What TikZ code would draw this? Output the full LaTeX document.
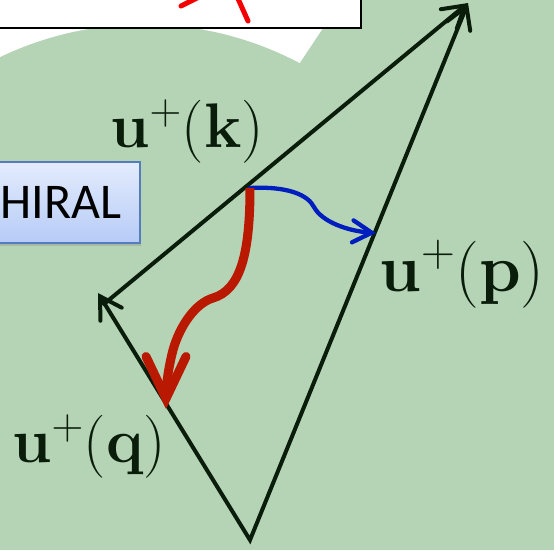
\RequirePackage{fix-cm}
\documentclass[tikz,border=0pt]{standalone}
\usepackage[no-math]{fontspec}
\newfontfamily\calib{Carlito}
\usetikzlibrary{arrows.meta,shadows}
\definecolor{bgG}{RGB}{181,212,182}
\definecolor{lineK}{RGB}{10,28,10}
\definecolor{redA}{RGB}{185,25,0}
\definecolor{blueA}{RGB}{0,30,190}
\definecolor{boxTop}{RGB}{228,236,253}
\definecolor{boxBot}{RGB}{182,203,246}
\definecolor{boxEdge}{RGB}{85,125,190}
\definecolor{redT}{RGB}{245,0,0}
\begin{document}
\begin{tikzpicture}[x=1pt,y=-1pt,
  barbK/.tip={Straight Barb[length=21pt,width=25pt,line cap=round]},
  vec/.style={line width=4pt, draw=lineK, line cap=round, line join=miter},
  bluearr/.style={line width=4.3pt, draw=blueA, line cap=round,
    -{Straight Barb[length=19pt,width=22pt,line cap=round]}},
  redarr/.style={line width=9pt, draw=redA, line cap=butt,
    -{Straight Barb[length=42pt,width=40pt,line cap=round]}},
  lab/.style={inner sep=0pt, text=lineK, font=\fontsize{63}{66}\selectfont},
  hbox/.style={draw=boxEdge, line width=2pt, top color=boxTop, bottom color=boxBot,
    drop shadow={shadow xshift=1pt, shadow yshift=-3pt, opacity=0.3}},
  htext/.style={inner sep=0pt, font=\calib\fontsize{50}{60}\selectfont},
  topbox/.style={draw=black, line width=2pt, fill=white}
]
\useasboundingbox (0,0) rectangle (554,550);
% background
\fill[bgG] (0,0) rectangle (554,550);
\fill[white] (-2,-2) -- (-2,57) -- (0,57) arc[start angle=-115.6, end angle=-62.1, radius=333] -- (343,-2) -- cycle;
% top white box with red strokes
\draw[topbox] (-5,-5) rectangle (361,28);
\begin{scope}
  \clip (-5,-5) rectangle (360,27);
  \draw[redT, line width=5pt, line cap=round] (181,6) -- (205,-6);
  \draw[redT, line width=5pt, line cap=round] (235,-8) -- (248,21);
\end{scope}
% CHIRAL box
\path[hbox] (-6,162) rectangle (140,243);
\node[htext, anchor=base west] (chiral) at (0.5,218) {HIRAL};
% triangle
\coordinate (T) at (468,3);
\coordinate (L) at (98,293);
\coordinate (B) at (250,540);
\coordinate (K) at (104,304);
\draw[vec, {barbK}-{barbK}] (L) -- (B) -- (T);
\draw[vec, -{barbK}] (K) -- (T);
% curved arrows
\coordinate (S) at (250,188);
\coordinate (P) at (376,233);
\coordinate (Q) at (166,409);
\draw[bluearr] (S) .. controls (288,186) and (308,195) .. (314,207)
  .. controls (322,222) and (348,231) .. (P);
\draw[redarr] (S) .. controls (250,255) and (240,290) .. (213,298)
  .. controls (196,303) and (180,325) .. (173,350)
  .. controls (169,365) and (166,385) .. (Q);
% labels
\node[lab, anchor=base west] (lk) at (110,147) {$\mathbf{u}^{+}(\mathbf{k})$};
\node[lab, anchor=base west, font=\fontsize{67}{70}\selectfont] (lp) at (379,291) {$\mathbf{u}^{+}(\mathbf{p})$};
\node[lab, anchor=base west] (lq) at (12,462) {$\mathbf{u}^{+}(\mathbf{q})$};
\end{tikzpicture}
\end{document}
